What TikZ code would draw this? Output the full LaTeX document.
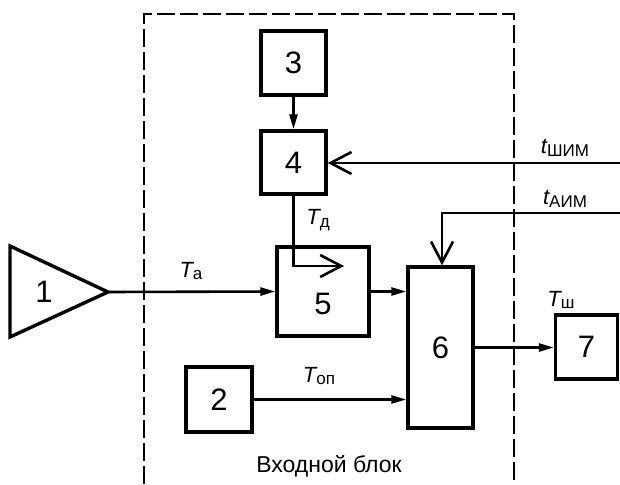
\documentclass[tikz,border=0pt]{standalone}
\usepackage{fontspec}
\setmainfont{Liberation Sans}
\usetikzlibrary{arrows.meta}
\newcommand{\sig}[2]{{\fontsize{22}{22}\selectfont\itshape #1}\raisebox{-0.45ex}{\fontsize{17}{17}\selectfont #2}}
\tikzset{
  blk/.style={draw,line width=3.4pt,inner sep=0pt,font=\fontsize{31}{31}\selectfont},
  wire/.style={line width=2.6pt},
  fill tip/.style={wire,-{Triangle[length=15pt,width=8pt]}},
  barb tip/.style={wire,-{Straight Barb[length=21pt,width=22pt,line width=2.6pt]}},
  frame/.style={line width=1.4pt,dash pattern=on 18pt off 5pt},
  lbl/.style={inner sep=0pt}
}
\begin{document}
\begin{tikzpicture}[x=1pt,y=-1pt,line join=miter]
  \useasboundingbox (0,0) rectangle (620,484);
  % input block frame
  \draw[frame] (144,484) -- (144,14) -- (514,14) -- (514,484);
  \node[lbl,font=\fontsize{23}{23}\selectfont] (title) at (329,466) {Входной блок};
  % blocks
  \coordinate (t1top) at (10,246); \coordinate (t1bot) at (10,337);
  \coordinate (t1apex) at (108,292);
  \draw[blk] (t1top) -- (t1apex) -- (t1bot) -- cycle;
  \node[lbl,font=\fontsize{31}{31}\selectfont] (n1) at (44,292) {1};
  \node[blk,minimum width=65,minimum height=64] (n3) at (293.5,63) {3};
  \node[blk,minimum width=65,minimum height=63] (n4) at (293.5,162.5) {4};
  \node[blk,minimum width=92,minimum height=89,
        label={[font=\fontsize{31}{31}\selectfont,yshift=-12pt]center:5}] (n5) at (323,291.5) {};
  \node[blk,minimum width=65,minimum height=161] (n6) at (440.5,347.5) {6};
  \node[blk,minimum width=62,minimum height=64] (n7) at (586.5,347) {7};
  \node[blk,minimum width=66,minimum height=65] (n2) at (219,399.5) {2};
  % outer inputs
  \coordinate (shim) at (620,163); \coordinate (aimin) at (620,213);
  \coordinate (aim) at (442,213); \coordinate (tdend) at (344,266);
  % connectors
  \draw[fill tip] (n3.south) -- (n4.north);
  \draw[barb tip] (shim) -- (shim -| n4.east);
  \draw[barb tip] (aimin) -- (aim) -- (aim |- n6.north);
  \draw[barb tip] (n4.south) -- (n4.south |- tdend) -- (tdend);
  \draw[fill tip] (t1apex) -- (n5.west);
  \draw[fill tip] (n5.east) -- (n5.east -| n6.west);
  \draw[fill tip] (n2.east) -- (n2.east -| n6.west);
  \draw[fill tip] (n6.east) -- (n6.east -| n7.west);
  % signal labels
  \node[lbl] (ta) at (191,271) {\sig{T}{а}};
  \node[lbl] (td) at (318,220) {\sig{T}{д}};
  \node[lbl] (top) at (319,376) {\sig{T}{оп}};
  \node[lbl] (tsh) at (561,300) {\sig{T}{ш}};
  \node[lbl] (tshim) at (565,148) {\sig{t}{ШИМ}};
  \node[lbl] (taim) at (565,199) {\sig{t}{АИМ}};
\end{tikzpicture}
\end{document}
